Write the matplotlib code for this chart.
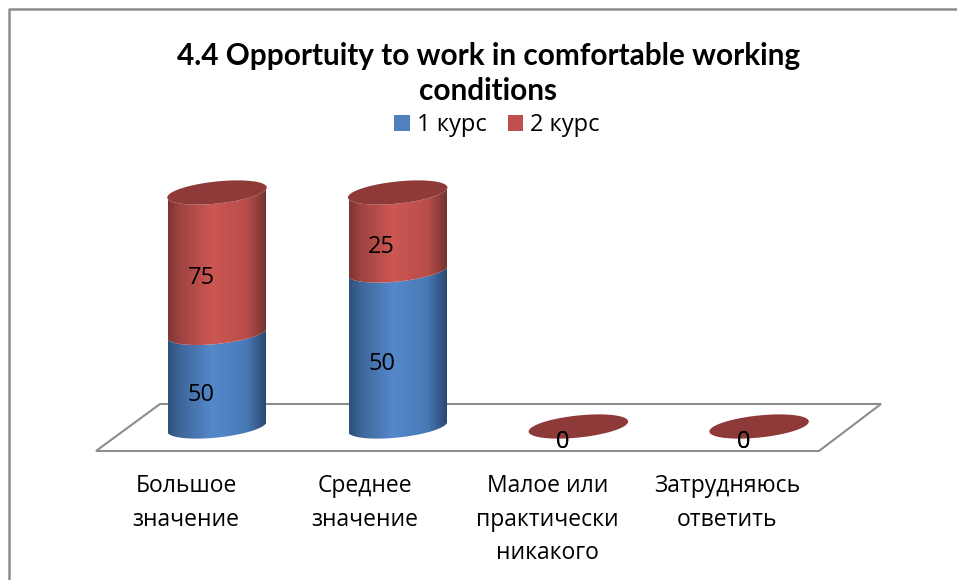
import numpy as np
import matplotlib
matplotlib.use('Agg')
import matplotlib.pyplot as plt
from matplotlib.colors import LinearSegmentedColormap
from matplotlib.patches import Patch, Polygon

# Data
categories = ['Большое\nзначение', 'Среднее\nзначение', 'Малое или\nпрактически\nникакого', 'Затрудняюсь\nответить']
course_1 = [50, 50, 0, 0]
course_2 = [75, 25, 0, 0]
series_names = ['1 курс', '2 курс']
title = '4.4 Opportuity to work in comfortable working\nconditions'

plt.rcParams['font.family'] = ['Open Sans', 'DejaVu Sans']

W, H = 957, 580
fig = plt.figure(figsize=(W / 100, H / 100), dpi=100)
ax = fig.add_axes([0, 0, 1, 1])

# scale: one category step and one percent, in pixels
sx = 180.7
sy = 2.34
x0 = 217
y0 = 426.5
xlim = (-x0 / sx, (W - x0) / sx)
ylim = (-(H - y0) / sy, y0 / sy)
ax.set_xlim(xlim)
ax.set_ylim(ylim)
ax.axis('off')

# 100% stacked shares
a1 = np.array(course_1, dtype=float)
a2 = np.array(course_2, dtype=float)
totals = a1 + a2
safe = np.where(totals > 0, totals, 1)
share_1 = a1 / safe * 100
share_2 = a2 / safe * 100

# ellipse shape of the cylinder caps (pixels)
ea, eb, tilt = 50.0, 11.0, np.radians(6)
t_right = np.arctan2(-eb * np.sin(tilt), ea * np.cos(tilt))


def ellipse_pts(cx, cy, t):
    px = ea * np.cos(t) * np.cos(tilt) - eb * np.sin(t) * np.sin(tilt)
    py = ea * np.cos(t) * np.sin(tilt) + eb * np.sin(t) * np.cos(tilt)
    return np.column_stack([cx + px / sx, cy + py / sy])


def draw_body(cx, lo, hi, cmap, z):
    t = np.linspace(t_right + np.pi, t_right + 2 * np.pi, 60)
    pts = np.vstack([ellipse_pts(cx, lo, t), ellipse_pts(cx, hi, t)[::-1]])
    poly = Polygon(pts, closed=True, facecolor='none', edgecolor='none', zorder=z)
    ax.add_patch(poly)
    left, right = cx - 49 / sx, cx + 49 / sx
    im = ax.imshow(np.linspace(0, 1, 256).reshape(1, -1), cmap=cmap, aspect='auto',
                   extent=(left, right, lo - 10, hi + 10), zorder=z)
    im.set_clip_path(poly)


blue_cmap = LinearSegmentedColormap.from_list('b', [(0, '#2F5079'), (0.12, '#3E669A'), (0.45, '#5588CA'),
                                                    (0.8, '#477AB5'), (0.93, '#36588A'), (1, '#2C4A70')])
red_cmap = LinearSegmentedColormap.from_list('r', [(0, '#7E3634'), (0.12, '#9E4341'), (0.45, '#CD5753'),
                                                   (0.8, '#B94D4A'), (0.93, '#8E3E3B'), (1, '#733230')])
cap_color = '#8E3A39'
floor_color = '#8C8C8C'

# floor
floor_px = [(96, 451), (160, 404), (881, 404), (819, 451)]
floor = [((px - x0) / sx, (y0 - py) / sy) for px, py in floor_px]
ax.add_patch(Polygon(floor, closed=True, facecolor='white', edgecolor=floor_color, linewidth=1.5, zorder=1))

# cylinders
for i in range(len(categories)):
    mid = share_1[i]
    top = share_1[i] + share_2[i]
    if top > 0:
        draw_body(i, 0, mid, blue_cmap, 2)
        draw_body(i, mid, top, red_cmap, 3)
    tt = np.linspace(0, 2 * np.pi, 120)
    ax.add_patch(Polygon(ellipse_pts(i, top, tt), closed=True, facecolor=cap_color, edgecolor='none', zorder=4))

# value labels, sit left of and below the segment middle
for i in range(len(categories)):
    for val, mid in ((course_1[i], share_1[i] / 2), (course_2[i], share_1[i] + share_2[i] / 2)):
        ax.annotate(str(val), (i, mid), xytext=(-11.5, -10.8), textcoords='offset points',
                    ha='center', va='center', fontsize=17, color='black', zorder=6)

# category labels
label_shift = [-31, -33, -31, -32]
for i, cat in enumerate(categories):
    ax.annotate(cat, (i, (y0 - 474) / sy), xytext=(label_shift[i] * 0.72, 0), textcoords='offset points',
                ha='center', va='top', fontsize=16.5, linespacing=1.54, color='black', zorder=6)

# chart frame, left and top only
ax.plot([9 / W, 9 / W, 1], [0, 1 - 9 / H, 1 - 9 / H], transform=ax.transAxes,
        color=floor_color, linewidth=1.8, clip_on=False, zorder=0)

ax.set_title(title, fontsize=21.4, fontweight='bold', x=488.5 / W, y=1 - 108 / H, linespacing=1.27, color='black',
             family=['Lato', 'DejaVu Sans'])

handles = [Patch(facecolor='#4F81BD', label=series_names[0]), Patch(facecolor='#C0504D', label=series_names[1])]
ax.legend(handles=handles, loc='center', bbox_to_anchor=(497 / W, 1 - 125 / H), ncol=2, frameon=False,
          fontsize=17, handlelength=0.65, handleheight=0.65, handletextpad=0.3, columnspacing=0.9,
          labelspacing=0)

ax.set_xlim(xlim)
ax.set_ylim(ylim)
fig.savefig('out.png', dpi=100)
